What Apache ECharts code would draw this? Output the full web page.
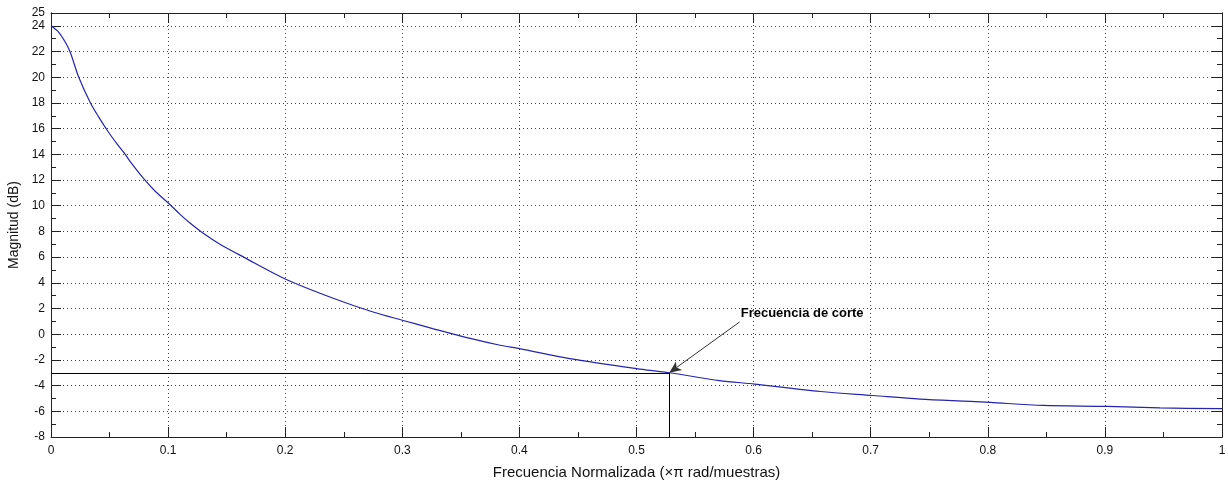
<!DOCTYPE html>
<html>
<head>
<meta charset="utf-8">
<script src="https://cdn.jsdelivr.net/npm/echarts@6/dist/echarts.min.js"></script>
<style>
html,body{margin:0;padding:0;background:#fff;}
#chart{width:1228px;height:481px;}
</style>
</head>
<body>
<div id="chart"></div>
<script>
// Normalized frequency (x pi rad/sample)
const freq = [0, 0.0066, 0.0124, 0.0166, 0.0237, 0.0337, 0.0408, 0.0493, 0.0565, 0.063, 0.0675, 0.0788, 0.0888, 0.0997, 0.110, 0.1187, 0.130, 0.1443, 0.1645, 0.2, 0.241, 0.275, 0.3, 0.326, 0.358, 0.3835, 0.4, 0.443, 0.5, 0.528, 0.571, 0.601, 0.657, 0.7017, 0.742, 0.785, 0.802, 0.847, 0.902, 0.947, 1.0];
// Magnitude (dB)
const magnitude = [24.0, 23.5, 22.7, 21.9, 20.0, 18.0, 16.9, 15.7, 14.8, 14.05, 13.45, 12.15, 11.15, 10.25, 9.35, 8.65, 7.85, 7.0, 6.0, 4.3, 2.8, 1.73, 1.09, 0.44, -0.33, -0.86, -1.12, -1.9, -2.68, -3.0, -3.61, -3.88, -4.46, -4.77, -5.05, -5.23, -5.31, -5.54, -5.62, -5.74, -5.79];
// Cut-off point
const cutoffFreq = 0.528;
const cutoffMag = -3;
const annotationText = 'Frecuencia de corte';
const annotationAnchor = [0.588, 0.95];
const annotationLabelPos = [0.589, 1.63];
const xTitle = 'Frecuencia Normalizada (\u00d7\u03c0 rad/muestras)';
const yTitle = 'Magnitud (dB)';
const yMin = -8, yMax = 25;
const xMin = 0, xMax = 1;

const FONT = '"Liberation Sans", Arial, sans-serif';
const axisCol = '#222';
const gridLine = {show: true, lineStyle: {color: '#444', type: [1, 3], width: 1}};

function yAxisDef(pos, major, labels) {
  return {
    type: 'value', position: pos, min: yMin, max: yMax,
    interval: major ? 2 : 1,
    axisLine: {show: true, onZero: false, lineStyle: {color: axisCol, width: 1}},
    axisTick: {show: true, inside: true, length: major ? 10 : 5, lineStyle: {color: axisCol}},
    axisLabel: labels ? {
      show: true, color: '#111', fontFamily: FONT, fontSize: 12, margin: 6,
      showMinLabel: true, showMaxLabel: true,
      formatter: function (v) { return (v % 2 === 0 || v === yMax) ? String(v) : ''; }
    } : {show: false},
    splitLine: (major && pos === 'left') ? gridLine : {show: false},
    name: labels ? yTitle : '',
    nameLocation: 'middle', nameGap: 27,
    nameTextStyle: {fontFamily: FONT, fontSize: 14, color: '#111'}
  };
}
function xAxisDef(pos, labels) {
  return {
    type: 'value', position: pos, min: xMin, max: xMax, interval: 0.1,
    axisLine: {show: true, onZero: false, lineStyle: {color: axisCol, width: 1}},
    axisTick: {show: true, inside: true, length: 10, lineStyle: {color: axisCol}},
    minorTick: {show: true, splitNumber: 2, length: 5, lineStyle: {color: axisCol}},
    axisLabel: labels ? {show: true, color: '#111', fontFamily: FONT, fontSize: 12, margin: 8,
      showMinLabel: true, showMaxLabel: true} : {show: false},
    splitLine: labels ? gridLine : {show: false},
    name: labels ? xTitle : '',
    nameLocation: 'middle', nameGap: 28,
    nameTextStyle: {fontFamily: FONT, fontSize: 15, color: '#111'}
  };
}

const chart = echarts.init(document.getElementById('chart'), null, {renderer: 'canvas'});
chart.setOption({
  animation: false,
  backgroundColor: '#fff',
  grid: {left: 51, right: 6, top: 13, bottom: 44, containLabel: false, outerBoundsMode: 'none'},
  xAxis: [xAxisDef('bottom', true), xAxisDef('top', false)],
  yAxis: [yAxisDef('left', false, true), yAxisDef('left', true, false),
          yAxisDef('right', false, false), yAxisDef('right', true, false)],
  series: [{
    type: 'line', xAxisIndex: 0, yAxisIndex: 0,
    data: freq.map((f, i) => [f, magnitude[i]]),
    showSymbol: false, smooth: 0.3,
    lineStyle: {color: '#2424b0', width: 1.2},
    markLine: {
      silent: true, symbol: ['none', 'none'], animation: false,
      label: {show: false},
      lineStyle: {color: '#000', width: 1, type: 'solid'},
      data: [
        [{coord: [xMin, cutoffMag]}, {coord: [cutoffFreq, cutoffMag]}],
        [{coord: [cutoffFreq, cutoffMag]}, {coord: [cutoffFreq, yMin]}]
      ]
    }
  }, {
    type: 'line', xAxisIndex: 0, yAxisIndex: 0, data: [],
    markLine: {
      silent: true, animation: false,
      symbol: ['none', 'arrow'], symbolSize: [8, 12],
      label: {show: false},
      lineStyle: {color: '#333', width: 1, type: 'solid'},
      data: [[{coord: annotationAnchor}, {coord: [cutoffFreq, cutoffMag]}]]
    },
    markPoint: {
      silent: true, animation: false, symbol: 'circle', symbolSize: 0,
      label: {show: true, position: 'right', distance: 0, formatter: annotationText,
        fontFamily: FONT, fontSize: 13, fontWeight: 'bold', color: '#000'},
      data: [{coord: annotationLabelPos}]
    }
  }]
});
</script>
</body>
</html>
